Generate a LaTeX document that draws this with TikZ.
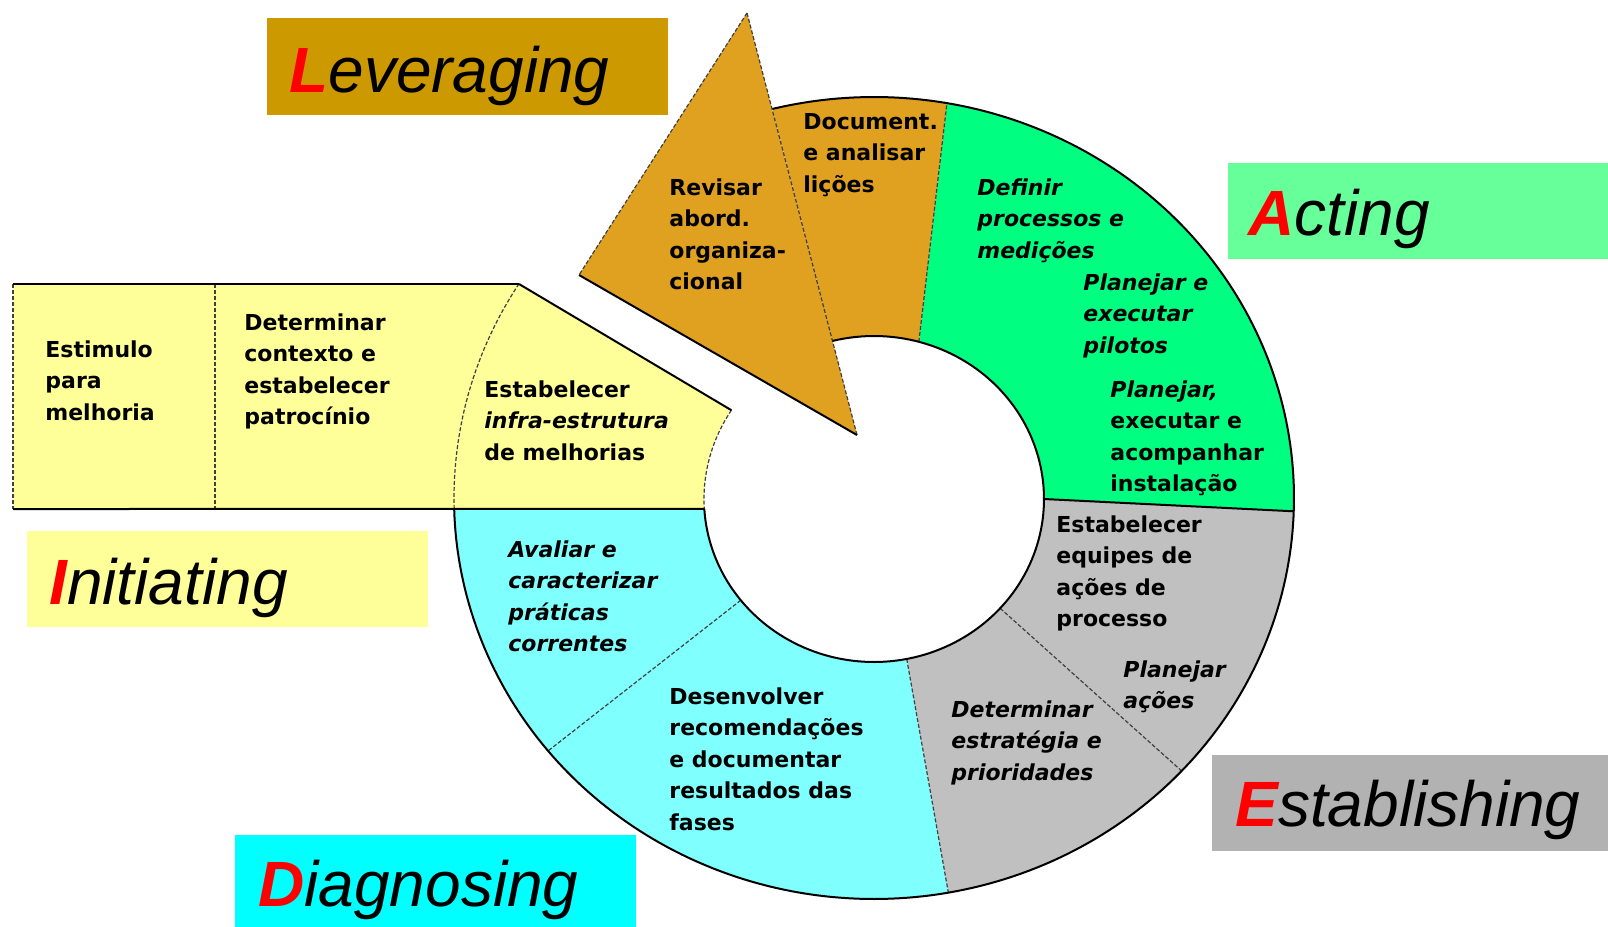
\documentclass[tikz,border=0pt]{standalone}
\usepackage{fontspec}
\setmainfont{DejaVu Sans}
\newfontfamily\lblfont{Liberation Sans}
\definecolor{ylw}{HTML}{FFFF99}
\definecolor{cyr}{HTML}{80FFFF}
\definecolor{gyr}{HTML}{C0C0C0}
\definecolor{grr}{HTML}{00FF80}
\definecolor{orr}{HTML}{E0A020}
\definecolor{levbox}{HTML}{CC9900}
\definecolor{actbox}{HTML}{66FF99}
\definecolor{inibox}{HTML}{FFFF99}
\definecolor{diabox}{HTML}{00FFFF}
\definecolor{estbox}{HTML}{B2B2B2}
\tikzset{
  box/.style={draw=none, inner sep=0pt, anchor=north west},
  lbl/.style={anchor=base west, inner sep=0pt, font=\lblfont\itshape\fontsize{32}{38}\selectfont},
  txt/.style={anchor=north west, inner sep=0pt, align=left, font=\fontsize{11}{15.75}\selectfont\bfseries},
  itx/.style={txt, font=\fontsize{11}{15.75}\selectfont\bfseries\itshape},
  sep/.style={line width=0.6pt, draw=black!75, dash pattern=on 2pt off 1pt},
  edge/.style={line width=1pt, draw=black},
}
\begin{document}
\begin{tikzpicture}[x=0.5pt,y=-0.5pt]
\useasboundingbox (0,0) rectangle (1608,927);
% label boxes
\node[box, fill=levbox, minimum width=200.5pt, minimum height=48.5pt] (levB) at (267,18) {};
\node[box, fill=actbox, minimum width=190pt, minimum height=48pt] (actB) at (1228,163) {};
\node[box, fill=inibox, minimum width=200.5pt, minimum height=48pt] (iniB) at (27,531) {};
\node[box, fill=diabox, minimum width=200.5pt, minimum height=46pt] (diaB) at (235,835) {};
\node[box, fill=estbox, minimum width=198pt, minimum height=48pt] (estB) at (1212,755) {};
\node[lbl] (levT) at (289,92) {\textcolor{red}{\bfseries L}everaging};
\node[lbl] (actT) at (1248,235) {\textcolor{red}{\bfseries A}cting};
\node[lbl] (iniT) at (49,604) {\textcolor{red}{\bfseries I}nitiating};
\node[lbl] (diaT) at (258,906) {\textcolor{red}{\bfseries D}iagnosing};
\node[lbl] (estT) at (1235,826) {\textcolor{red}{\bfseries E}stablishing};
% coordinates
\coordinate (ycI) at ({874+170*cos(183.5)},{499-163*sin(183.5)});
\coordinate (csI) at ({874+170*cos(218.4)},{499-163*sin(218.4)});
\coordinate (csO) at ({874+420*cos(219.1)},{498-401*sin(219.1)});
\coordinate (cgI) at ({874+170*cos(281.1)},{499-163*sin(281.1)});
\coordinate (cgO) at ({874+420*cos(280.2)},{498-401*sin(280.2)});
\coordinate (gsI) at ({874+170*cos(317.9)},{499-163*sin(317.9)});
\coordinate (gsO) at ({874+420*cos(317.1)},{498-401*sin(317.1)});
\coordinate (ggI) at (1044,499);
\coordinate (ggO) at ({874+420*cos(358.1)},{498-401*sin(358.1)});
\coordinate (goI) at ({874+170*cos(74.7)},{499-163*sin(74.7)});
\coordinate (goO) at ({874+420*cos(80)},{498-401*sin(80)});
\coordinate (orI) at (832.5,340.9);
\coordinate (trA) at (747,13);
\coordinate (trL) at (579,275);
\coordinate (trT) at (857,435);
\coordinate (rTL) at (13,284);
\coordinate (rBL) at (13,509);
\coordinate (yO) at (519,284);
\coordinate (yI) at ({874+170*cos(147)},{499-163*sin(147)});
\coordinate (dvT) at (215,284);
\coordinate (dvB) at (215,509);
% fills
\fill[ylw] (rTL) -- (yO) -- (yI) -- plot[domain=147:183.5,samples=40] ({874+170*cos(\x)},{499-163*sin(\x)}) -- (rBL) -- cycle;
\fill[cyr] plot[domain=181.6:280.2,samples=80] ({874+420*cos(\x)},{498-401*sin(\x)}) -- plot[domain=281.1:183.5,samples=50] ({874+170*cos(\x)},{499-163*sin(\x)}) -- cycle;
\fill[gyr] plot[domain=280.2:358.1,samples=80] ({874+420*cos(\x)},{498-401*sin(\x)}) -- plot[domain=360:281.1,samples=50] ({874+170*cos(\x)},{499-163*sin(\x)}) -- cycle;
\fill[grr] plot[domain=-1.9:80,samples=80] ({874+420*cos(\x)},{498-401*sin(\x)}) -- plot[domain=74.7:0,samples=50] ({874+170*cos(\x)},{499-163*sin(\x)}) -- cycle;
\fill[orr] plot[domain=80:104,samples=30] ({874+420*cos(\x)},{498-401*sin(\x)}) -- (orI) -- plot[domain=104.1:74.7,samples=30] ({874+170*cos(\x)},{499-163*sin(\x)}) -- cycle;
\fill[orr] (trA) -- (trL) -- (trT) -- cycle;
% internal separators
\draw[sep] (dvT) -- (dvB);
\draw[sep] plot[domain=147.7:181.6,samples=40] ({874+420*cos(\x)},{498-401*sin(\x)});
\draw[sep] plot[domain=147:183.5,samples=40] ({874+170*cos(\x)},{499-163*sin(\x)});
\draw[sep] (csI) -- (csO);
\draw[sep] (cgI) -- (cgO);
\draw[sep] (gsI) -- (gsO);
\draw[sep] (goI) -- (goO);
\draw[sep] (trA) -- (trT);
\draw[sep] (trA) -- (trL);
\draw[sep] (rTL) -- (rBL);
% outlines
\draw[edge] plot[domain=181.6:464,samples=250] ({874+420*cos(\x)},{498-401*sin(\x)});
\draw[edge] plot[domain=183.5:464.1,samples=150] ({874+170*cos(\x)},{499-163*sin(\x)});
\draw[edge] (yO) -- (rTL);
\draw[edge] (rBL) -- (ycI);
\draw[edge] (yO) -- (yI);
\draw[edge] (ggI) -- (ggO);
\draw[edge] (trL) -- (trT);
% texts
\node[txt] (t1) at (45,335) {\strut Estimulo\\para\\melhoria};
\node[txt] (t2) at (244,308) {\strut Determinar\\contexto e\\estabelecer\\patrocínio};
\node[txt] (t3) at (484,375) {\strut Estabelecer\\\textit{infra-estrutura}\\de melhorias};
\node[txt] (t4) at (669,173) {\strut Revisar\\abord.\\organiza-\\cional};
\node[txt] (t5) at (803,107) {\strut Document.\\e analisar\\lições};
\node[itx] (t6) at (977,173) {\strut Definir\\processos e\\medições};
\node[itx] (t7) at (1083,268) {\strut Planejar e\\executar\\pilotos};
\node[txt] (t8) at (1110,375) {\strut\textit{Planejar,}\\executar e\\acompanhar\\instalação};
\node[txt] (t9) at (1056,510) {\strut Estabelecer\\equipes de\\ações de\\processo};
\node[itx] (t10) at (1123,655) {\strut Planejar\\ações};
\node[itx] (t11) at (951,695) {\strut Determinar\\estratégia e\\prioridades};
\node[txt] (t12) at (669,682) {\strut Desenvolver\\recomendações\\e documentar\\resultados das\\fases};
\node[itx] (t13) at (508,535) {\strut Avaliar e\\caracterizar\\práticas\\correntes};
\end{tikzpicture}
\end{document}
